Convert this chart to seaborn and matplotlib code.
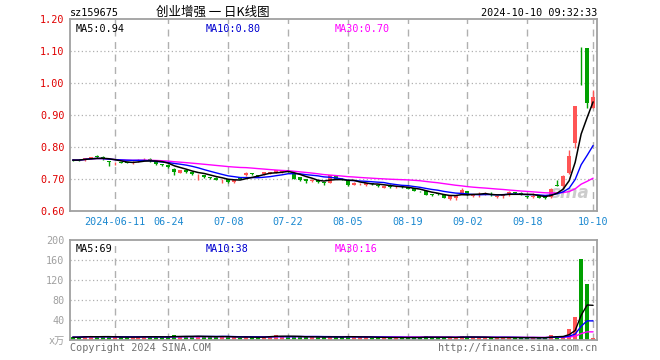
import numpy as np
import pandas as pd
import matplotlib
matplotlib.use("Agg")
import matplotlib.pyplot as plt
import seaborn as sns

# daily bars 2024-05-30 .. 2024-10-10 (trading days only)
holidays = ["2024-06-10", "2024-09-16", "2024-09-17", "2024-10-01", "2024-10-02",
            "2024-10-03", "2024-10-04", "2024-10-07"]
dates = [d for d in pd.bdate_range("2024-05-30", "2024-10-10")
         if d.strftime("%Y-%m-%d") not in holidays]

open_ = [0.760, 0.760, 0.759, 0.764, 0.770, 0.770, 0.756, 0.749, 0.752, 0.752,
         0.750, 0.755, 0.761, 0.764, 0.752, 0.747, 0.744, 0.732, 0.719, 0.728,
         0.722, 0.712, 0.712, 0.705, 0.704, 0.696, 0.699, 0.690, 0.702, 0.711,
         0.718, 0.712, 0.715, 0.716, 0.720, 0.723, 0.725, 0.717, 0.706, 0.699,
         0.693, 0.696, 0.690, 0.688, 0.713, 0.700, 0.696, 0.682, 0.684, 0.682,
         0.686, 0.680, 0.672, 0.682, 0.674, 0.676, 0.675, 0.672, 0.662, 0.662,
         0.652, 0.655, 0.649, 0.639, 0.641, 0.654, 0.661, 0.647, 0.650, 0.651,
         0.652, 0.644, 0.648, 0.650, 0.658, 0.657, 0.645, 0.645, 0.647, 0.643,
         0.643, 0.680, 0.679, 0.718, 0.811, 1.114, 1.108, 0.921]
high = [0.763, 0.762, 0.767, 0.770, 0.774, 0.771, 0.757, 0.754, 0.754, 0.754,
        0.756, 0.761, 0.765, 0.765, 0.753, 0.748, 0.746, 0.734, 0.729, 0.729,
        0.723, 0.716, 0.713, 0.707, 0.705, 0.699, 0.700, 0.699, 0.704, 0.722,
        0.720, 0.714, 0.723, 0.723, 0.728, 0.727, 0.727, 0.718, 0.707, 0.700,
        0.699, 0.697, 0.692, 0.712, 0.714, 0.702, 0.697, 0.690, 0.688, 0.688,
        0.688, 0.681, 0.679, 0.683, 0.678, 0.678, 0.676, 0.673, 0.664, 0.663,
        0.654, 0.657, 0.650, 0.647, 0.650, 0.672, 0.664, 0.650, 0.658, 0.660,
        0.658, 0.647, 0.654, 0.661, 0.660, 0.658, 0.648, 0.656, 0.648, 0.645,
        0.671, 0.697, 0.712, 0.790, 0.928, 1.114, 1.110, 0.978]
low = [0.756, 0.756, 0.755, 0.763, 0.766, 0.758, 0.741, 0.743, 0.749, 0.749,
       0.746, 0.753, 0.760, 0.753, 0.745, 0.742, 0.733, 0.712, 0.718, 0.720,
       0.714, 0.697, 0.704, 0.701, 0.696, 0.686, 0.688, 0.687, 0.699, 0.710,
       0.713, 0.707, 0.714, 0.715, 0.719, 0.718, 0.721, 0.700, 0.695, 0.687,
       0.692, 0.688, 0.680, 0.686, 0.700, 0.696, 0.678, 0.680, 0.681, 0.678,
       0.681, 0.675, 0.671, 0.673, 0.672, 0.673, 0.669, 0.661, 0.658, 0.650,
       0.648, 0.651, 0.640, 0.635, 0.633, 0.653, 0.650, 0.643, 0.645, 0.649,
       0.646, 0.640, 0.640, 0.648, 0.654, 0.650, 0.641, 0.640, 0.640, 0.639,
       0.641, 0.679, 0.672, 0.715, 0.798, 0.994, 0.922, 0.921]
close = [0.759, 0.759, 0.765, 0.769, 0.769, 0.762, 0.752, 0.751, 0.751, 0.751,
         0.754, 0.760, 0.763, 0.755, 0.748, 0.745, 0.736, 0.722, 0.728, 0.722,
         0.716, 0.713, 0.707, 0.704, 0.698, 0.697, 0.690, 0.698, 0.701, 0.720,
         0.716, 0.710, 0.722, 0.722, 0.727, 0.724, 0.724, 0.701, 0.696, 0.694,
         0.698, 0.691, 0.689, 0.711, 0.701, 0.699, 0.680, 0.689, 0.685, 0.686,
         0.683, 0.678, 0.678, 0.674, 0.675, 0.675, 0.670, 0.662, 0.661, 0.651,
         0.651, 0.654, 0.641, 0.646, 0.649, 0.665, 0.651, 0.648, 0.651, 0.657,
         0.651, 0.645, 0.649, 0.659, 0.657, 0.651, 0.644, 0.647, 0.641, 0.642,
         0.670, 0.679, 0.710, 0.773, 0.928, 1.112, 0.937, 0.955]
# volume, 万
volume = [5.5, 5.8, 7.5, 7.8, 6.0, 6.5, 6.2, 6.0, 5.5, 5.6,
          6.0, 6.5, 8.0, 6.2, 5.8, 5.5, 6.0, 11.0, 7.0, 6.8,
          6.0, 7.5, 9.0, 6.0, 5.5, 7.0, 6.5, 6.8, 4.0, 6.0,
          5.8, 5.5, 7.5, 8.5, 9.5, 7.0, 6.0, 7.0, 6.5, 6.0,
          6.5, 5.5, 5.5, 7.5, 6.0, 5.5, 8.0, 6.0, 5.5, 5.5,
          5.0, 5.2, 5.0, 5.0, 5.0, 4.8, 5.0, 5.5, 5.0, 7.5,
          5.0, 4.8, 5.0, 5.5, 5.5, 7.5, 6.0, 5.0, 5.0, 5.2,
          4.8, 4.8, 5.5, 5.0, 4.5, 4.5, 4.5, 5.5, 4.0, 4.5,
          10.0, 9.0, 8.0, 22.0, 46.0, 162.0, 112.0, 4.7]

tick_dates = ["2024-06-11", "2024-06-24", "2024-07-08", "2024-07-22", "2024-08-05",
              "2024-08-19", "2024-09-02", "2024-09-18", "2024-10-10"]
tick_labels = ["2024-06-11", "06-24", "07-08", "07-22", "08-05",
               "08-19", "09-02", "09-18", "10-10"]
price_ticks = [0.60, 0.70, 0.80, 0.90, 1.00, 1.10, 1.20]
vol_ticks = [40, 80, 120, 160, 200]

df = pd.DataFrame({"date": dates, "open": open_, "high": high, "low": low,
                   "close": close, "volume": volume})
df["i"] = np.arange(len(df))
for n in (5, 10, 30):
    df[f"ma{n}"] = df["close"].rolling(n, min_periods=1).mean()
    df[f"vma{n}"] = df["volume"].rolling(n, min_periods=1).mean()
up = df["close"] >= df["open"]
RED, GREEN = "#ff5555", "#00a000"
df["color"] = np.where(up, RED, GREEN)
tick_pos = [df.index[df["date"] == pd.Timestamp(d)][0] for d in tick_dates]

sns.set_style("white")
plt.rcParams["font.family"] = ["DejaVu Sans Mono", "Noto Sans CJK SC"]
mono = "DejaVu Sans Mono"

fig = plt.figure(figsize=(6.6, 3.6), dpi=100)
L, W = 70 / 660, 527 / 660
ax1 = fig.add_axes([L, 1 - 211 / 360, W, 192 / 360])
ax2 = fig.add_axes([L, 20 / 360, W, 100 / 360])
xlim = (-0.45, len(df) - 0.35)

# price panel
for v in price_ticks[1:-1]:
    ax1.axhline(v, color="#b0b0b0", lw=0.9, ls=(0, (1, 2)), zorder=0)
for p in tick_pos:
    ax1.axvline(p, color="#b0b0b0", lw=1.0, ls=(0, (5, 4)), zorder=0)
    ax2.axvline(p, color="#b0b0b0", lw=1.0, ls=(0, (5, 4)), zorder=0)

ax1.text(0.985, 0.045, "sina", transform=ax1.transAxes, ha="right", va="bottom",
         fontsize=12, fontstyle="italic", fontweight="bold", color="#cccccc",
         family="DejaVu Sans", zorder=1)

ax1.vlines(df["i"], df["low"], df["high"], colors=df["color"], lw=1.0, zorder=2)
body = np.maximum((df["close"] - df["open"]).abs(), 0.0016)
ax1.bar(df["i"], body, bottom=np.minimum(df["open"], df["close"]),
        width=0.67, color=df["color"], linewidth=0, edgecolor="none", zorder=2)

sns.lineplot(data=df, x="i", y="ma30", color="#ff00ff", lw=1.0, ax=ax1, zorder=3)
sns.lineplot(data=df, x="i", y="ma10", color="#0000ff", lw=1.0, ax=ax1, zorder=3)
sns.lineplot(data=df, x="i", y="ma5", color="black", lw=1.1, ax=ax1, zorder=3)

ax1.set_xlim(*xlim)
ax1.set_ylim(0.60, 1.20)
ax1.set_yticks(price_ticks)
ax1.set_yticklabels([f"{v:.2f}" for v in price_ticks], color="#e00000",
                    fontsize=7.3, family=mono)
ax1.set_xticks(tick_pos)
ax1.set_xticklabels(tick_labels, color="#1a88d0", fontsize=7.3, family=mono)
ax1.tick_params(length=0, pad=4)
ax1.set_xlabel("")
ax1.set_ylabel("")

ax1.text(0.01, 0.975, "MA5:0.94", transform=ax1.transAxes, va="top",
         fontsize=7.3, color="black", family=mono)
ax1.text(0.257, 0.975, "MA10:0.80", transform=ax1.transAxes, va="top",
         fontsize=7.3, color="#0000d0", family=mono)
ax1.text(0.503, 0.975, "MA30:0.70", transform=ax1.transAxes, va="top",
         fontsize=7.3, color="#ff00ff", family=mono)

# volume panel
for v in vol_ticks[:-1]:
    ax2.axhline(v, color="#b0b0b0", lw=0.9, ls=(0, (1, 2)), zorder=0)
ax2.bar(df["i"], df["volume"], width=0.67, color=df["color"],
        linewidth=0, edgecolor="none", zorder=2)
sns.lineplot(data=df, x="i", y="vma30", color="#ff00ff", lw=1.0, ax=ax2, zorder=3)
sns.lineplot(data=df, x="i", y="vma10", color="#0000ff", lw=1.0, ax=ax2, zorder=3)
sns.lineplot(data=df, x="i", y="vma5", color="black", lw=1.0, ax=ax2, zorder=3)
ax2.set_xlim(*xlim)
ax2.set_ylim(0, 200)
ax2.set_yticks([0] + vol_ticks)
ax2.set_yticklabels(["x万"] + [str(v) for v in vol_ticks], color="#a0a0a0",
                    fontsize=7.3)
ax2.set_xticks([])
ax2.tick_params(length=0, pad=4)
ax2.set_xlabel("")
ax2.set_ylabel("")

ax2.text(0.01, 0.96, "MA5:69", transform=ax2.transAxes, va="top",
         fontsize=7.3, color="black", family=mono)
ax2.text(0.257, 0.96, "MA10:38", transform=ax2.transAxes, va="top",
         fontsize=7.3, color="#0000d0", family=mono)
ax2.text(0.503, 0.96, "MA30:16", transform=ax2.transAxes, va="top",
         fontsize=7.3, color="#ff00ff", family=mono)

for ax in (ax1, ax2):
    for s in ax.spines.values():
        s.set_color("#a0a0a0")
        s.set_linewidth(1.3)

# header and footer
fig.text(70 / 660, 1 - 13 / 360, "sz159675", va="center", fontsize=7.3,
         family=mono, color="black")
fig.text(213 / 660, 1 - 12 / 360, "创业增强 一 日K线图", va="center", ha="center",
         fontsize=9, family=["Noto Sans CJK SC", "DejaVu Sans"], color="black")
fig.text(597 / 660, 1 - 13 / 360, "2024-10-10 09:32:33", va="center", ha="right",
         fontsize=7.3, family=mono, color="black")
fig.text(70 / 660, 1 - 348 / 360, "Copyright 2024 SINA.COM", va="center",
         fontsize=7.3, family=mono, color="#707070")
fig.text(597 / 660, 1 - 348 / 360, "http://finance.sina.com.cn", va="center",
         ha="right", fontsize=7.3, family=mono, color="#707070")

fig.savefig("out.png", dpi=100)
